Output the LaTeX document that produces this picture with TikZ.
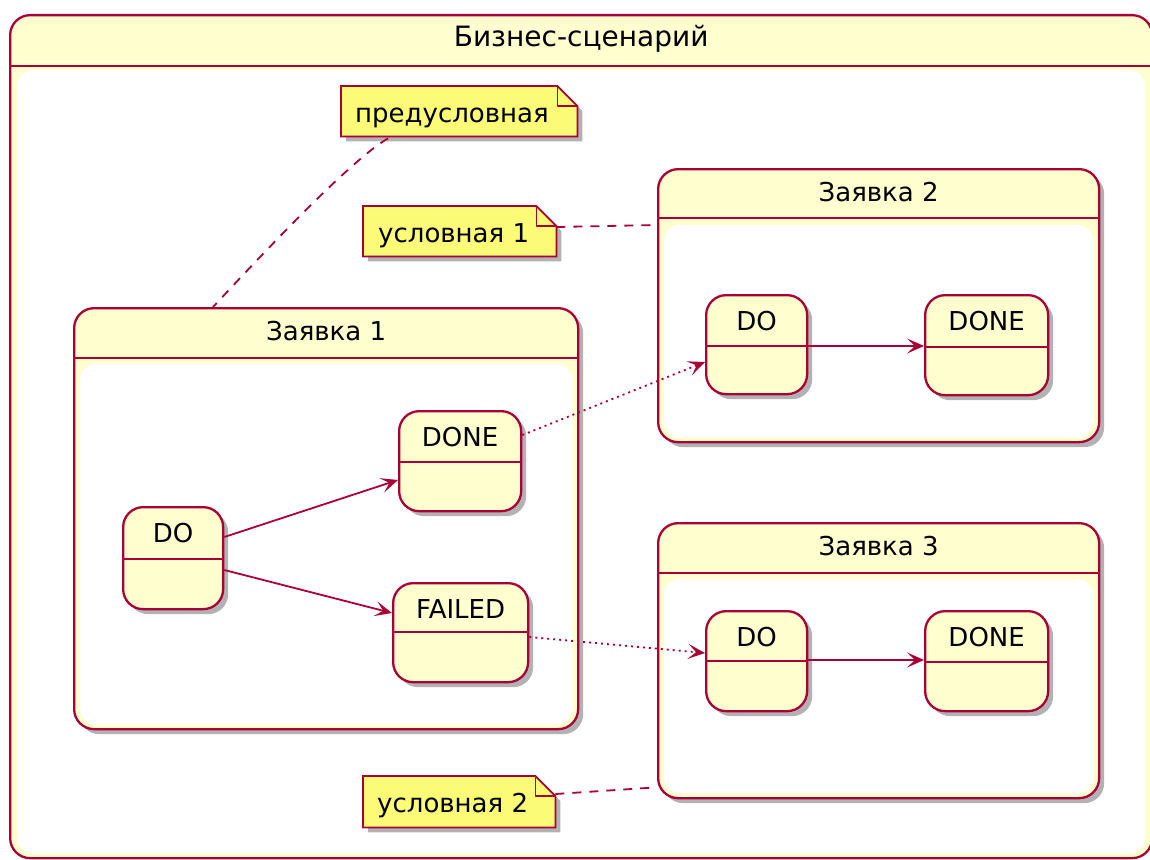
\documentclass[tikz,border=0pt]{standalone}
\usepackage{fontspec}
\setmainfont{DejaVu Sans}
\usetikzlibrary{shadows,arrows.meta,calc}
\definecolor{pborder}{HTML}{A80036}
\definecolor{pfill}{HTML}{FEFECE}
\definecolor{pnote}{HTML}{FBFB77}
\tikzset{
  bx/.style={draw=pborder, line width=2.3pt, fill=pfill, rounded corners=20pt, inner sep=0pt, anchor=north west},
  shd/.style={drop shadow={shadow xshift=5pt, shadow yshift=-5pt, opacity=0.3, fill=black}},
  ttl/.style={font=\fontsize{26}{30}\selectfont, text=black, inner sep=0pt, anchor=base},
  innerw/.style={fill=white, rounded corners=16pt},
  hdr/.style={draw=pborder, line width=2.3pt},
  arr/.style={draw=pborder, line width=1.8pt, -{Stealth[length=17pt,width=15pt,inset=8pt]}},
  dotarr/.style={arr, dash pattern=on 2pt off 4pt},
  notelink/.style={draw=pborder, line width=1.8pt, dash pattern=on 9pt off 8pt},
  notebox/.style={inner sep=0pt, anchor=north west},
  noteshape/.style={draw=pborder, line width=1.8pt, fill=pnote, shd},
}
\begin{document}
\begin{tikzpicture}[x=1pt,y=-1pt]
\useasboundingbox (0,0) rectangle (1150,859);
\clip (0,0) rectangle (1150,859);
\fill[white] (0,0) rectangle (1150,859);

% outer composite
\node[bx, minimum width=1142pt, minimum height=843pt] (z0) at (9,14) {};
\fill[innerw] ($(z0.north west)+(8,56)$) rectangle ($(z0.south east)+(-8,-6)$);
\draw[hdr] ($(z0.north west)+(0,52)$) -- ($(z0.north east)+(0,52)$);
\node[ttl, font=\fontsize{28}{32}\selectfont] (z0t) at ($(z0.north)+(0,32)$) {Бизнес-сценарий};

% Заявка 1
\node[bx, shd, minimum width=504pt, minimum height=421pt] (z1) at (73,307) {};
\fill[innerw] ($(z1.north west)+(7,57)$) rectangle ($(z1.south east)+(-7,-6)$);
\draw[hdr] ($(z1.north west)+(0,51)$) -- ($(z1.north east)+(0,51)$);
\node[ttl] (z1t) at ($(z1.north)+(0,33)$) {Заявка 1};

% Заявка 2
\node[bx, shd, minimum width=441pt, minimum height=273pt] (z2) at (657,168) {};
\fill[innerw] ($(z2.north west)+(7,57)$) rectangle ($(z2.south east)+(-7,-6)$);
\draw[hdr] ($(z2.north west)+(0,50)$) -- ($(z2.north east)+(0,50)$);
\node[ttl] (z2t) at ($(z2.north)+(0,33)$) {Заявка 2};

% Заявка 3
\node[bx, shd, minimum width=441pt, minimum height=275pt] (z3) at (657,522) {};
\fill[innerw] ($(z3.north west)+(7,57)$) rectangle ($(z3.south east)+(-7,-6)$);
\draw[hdr] ($(z3.north west)+(0,51)$) -- ($(z3.north east)+(0,51)$);
\node[ttl] (z3t) at ($(z3.north)+(0,33)$) {Заявка 3};

% states
\node[bx, shd, minimum width=100pt, minimum height=102pt] (a1) at (122,506) {};
\draw[hdr] ($(a1.north west)+(0,53)$) -- ($(a1.north east)+(0,53)$);
\node[ttl] (a1t) at ($(a1.north)+(0,36)$) {DO};

\node[bx, shd, minimum width=122pt, minimum height=100pt] (b1) at (398,410) {};
\draw[hdr] ($(b1.north west)+(0,52)$) -- ($(b1.north east)+(0,52)$);
\node[ttl] (b1t) at ($(b1.north)+(0,36)$) {DONE};

\node[bx, shd, minimum width=135pt, minimum height=99pt] (c1) at (392,582) {};
\draw[hdr] ($(c1.north west)+(0,50)$) -- ($(c1.north east)+(0,50)$);
\node[ttl] (c1t) at ($(c1.north)+(0,36)$) {FAILED};

\node[bx, shd, minimum width=101pt, minimum height=99pt] (a2) at (705,294) {};
\draw[hdr] ($(a2.north west)+(0,52)$) -- ($(a2.north east)+(0,52)$);
\node[ttl] (a2t) at ($(a2.north)+(0,36)$) {DO};

\node[bx, shd, minimum width=123pt, minimum height=100pt] (b2) at (924,294) {};
\draw[hdr] ($(b2.north west)+(0,53)$) -- ($(b2.north east)+(0,53)$);
\node[ttl] (b2t) at ($(b2.north)+(0,36)$) {DONE};

\node[bx, shd, minimum width=101pt, minimum height=100pt] (a3) at (705,610) {};
\draw[hdr] ($(a3.north west)+(0,51)$) -- ($(a3.north east)+(0,51)$);
\node[ttl] (a3t) at ($(a3.north)+(0,36)$) {DO};

\node[bx, shd, minimum width=123pt, minimum height=100pt] (b3) at (924,610) {};
\draw[hdr] ($(b3.north west)+(0,52)$) -- ($(b3.north east)+(0,52)$);
\node[ttl] (b3t) at ($(b3.north)+(0,36)$) {DONE};

% transitions
\draw[arr] ($(a1.north east)+(0,31)$) -- ($(b1.north west)+(0,70)$);
\draw[arr] ($(a1.north east)+(0,64)$) -- ($(c1.north west)+(0,31)$);
\draw[dotarr] ($(b1.north east)+(0,25)$) -- ($(a2.north west)+(0,68)$);
\draw[dotarr] ($(c1.north east)+(0,55)$) -- ($(a3.north west)+(0,43)$);
\draw[arr] ($(a2.north east)+(0,52)$) -- ($(b2.north west)+(0,52)$);
\draw[arr] ($(a3.north east)+(0,50)$) -- ($(b3.north west)+(0,50)$);

% notes
\node[notebox, minimum width=236pt, minimum height=50pt] (n0) at (341,86) {};
\node[notebox, minimum width=193pt, minimum height=50pt] (n1) at (363,206) {};
\node[notebox, minimum width=192pt, minimum height=51pt] (n2) at (363,776) {};
\foreach \n in {n0,n1,n2}{
  \path[noteshape] (\n.north west) -- ($(\n.north east)+(-20,0)$) -- ($(\n.north east)+(0,20)$) -- (\n.south east) -- (\n.south west) -- cycle;
  \draw[draw=pborder, line width=1.8pt, line join=round] ($(\n.north east)+(-20,0)$) -- ($(\n.north east)+(-20,20)$) -- ($(\n.north east)+(0,20)$);
}
\node[ttl, anchor=base west] (n0t) at ($(n0.north west)+(14,36)$) {предусловная};
\node[ttl, anchor=base west] (n1t) at ($(n1.north west)+(15,36)$) {условная 1};
\node[ttl, anchor=base west] (n2t) at ($(n2.north west)+(14,36)$) {условная 2};

% note links
\draw[notelink] ($(n0.south west)+(47,2)$) .. controls (350,160) and (255,262) .. ($(z1.north west)+(140,0)$);
\draw[notelink] ($(n1.north east)+(0,21)$) -- ($(z2.north west)+(0,57)$);
\draw[notelink] ($(n2.north east)+(0,18)$) -- ($(z3.south west)+(0,-12)$);
\end{tikzpicture}
\end{document}
